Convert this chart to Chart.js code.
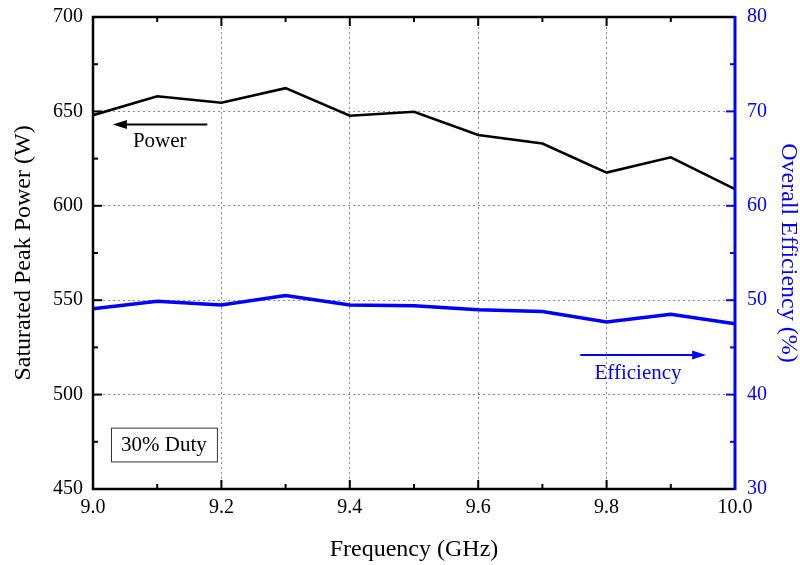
<!DOCTYPE html>
<html>
<head>
<meta charset="utf-8">
<script src="https://cdn.jsdelivr.net/npm/chart.js@4/dist/chart.umd.min.js"></script>
<style>
  html, body { margin: 0; padding: 0; background: #fff; }
  #wrap { width: 800px; height: 565px; position: relative; }
</style>
</head>
<body>
<div id="wrap"><canvas id="chart"></canvas></div>
<script>
// Values.
const freqGHz = [9.0, 9.1, 9.2, 9.3, 9.4, 9.5, 9.6, 9.7, 9.8, 9.9, 10.0];
const powerW = [648, 658, 654.6, 662.3, 647.7, 649.8, 637.5, 633, 617.6, 625.7, 608.8];
const efficiencyPct = [49.1, 49.9, 49.5, 50.5, 49.5, 49.4, 49.0, 48.8, 47.7, 48.5, 47.5];

const BLUE = "#0000ff";
const FONT = "'Liberation Serif', 'Times New Roman', serif";

// Frame, inward ticks, arrows and the "30% Duty" box. Everything is placed
// through the chart's scales so it moves with them.
const decorations = {
  id: "decorations",
  afterDatasetsDraw(chart) {
    const { ctx, chartArea: a, scales } = chart;
    const x = scales.x, y = scales.y, y1 = scales.y1;
    ctx.save();

    // frame
    ctx.lineWidth = 2.5;
    ctx.strokeStyle = "#000";
    ctx.beginPath();
    ctx.moveTo(a.right, a.top); ctx.lineTo(a.left, a.top);
    ctx.lineTo(a.left, a.bottom); ctx.lineTo(a.right, a.bottom);
    ctx.stroke();
    ctx.strokeStyle = BLUE;
    ctx.lineWidth = 3;
    ctx.beginPath();
    ctx.moveTo(a.right, a.top - 1); ctx.lineTo(a.right, a.bottom + 1);
    ctx.stroke();

    // x ticks (bottom and top), major every 0.2, minor every 0.1
    ctx.strokeStyle = "#000";
    ctx.lineWidth = 2;
    for (let i = 1; i < 10; i++) {
      const px = x.getPixelForValue(9 + i * 0.1);
      const len = i % 2 === 0 ? 9 : 5;
      ctx.beginPath();
      ctx.moveTo(px, a.bottom); ctx.lineTo(px, a.bottom - len);
      ctx.moveTo(px, a.top); ctx.lineTo(px, a.top + len);
      ctx.stroke();
    }
    // left y ticks every 25 W
    for (let v = 475; v < 700; v += 25) {
      const py = y.getPixelForValue(v);
      const len = v % 50 === 0 ? 9 : 5;
      ctx.beginPath();
      ctx.moveTo(a.left, py); ctx.lineTo(a.left + len, py);
      ctx.stroke();
    }
    // right y ticks every 5 %
    ctx.strokeStyle = BLUE;
    for (let v = 35; v < 80; v += 5) {
      const py = y1.getPixelForValue(v);
      const len = v % 10 === 0 ? 9 : 5;
      ctx.beginPath();
      ctx.moveTo(a.right, py); ctx.lineTo(a.right - len, py);
      ctx.stroke();
    }

    const arrow = (x0, x1, py, color) => {
      ctx.strokeStyle = color;
      ctx.fillStyle = color;
      ctx.lineWidth = 2;
      const dir = Math.sign(x1 - x0);
      ctx.beginPath();
      ctx.moveTo(x0, py); ctx.lineTo(x1 - dir * 10, py);
      ctx.stroke();
      ctx.beginPath();
      ctx.moveTo(x1, py);
      ctx.lineTo(x1 - dir * 14, py - 4.5);
      ctx.lineTo(x1 - dir * 14, py + 4.5);
      ctx.closePath();
      ctx.fill();
    };

    ctx.font = `21px ${FONT}`;
    ctx.textAlign = "center";
    ctx.textBaseline = "middle";

    // Power label (left axis)
    arrow(x.getPixelForValue(9.178), x.getPixelForValue(9.031), y.getPixelForValue(643), "#000");
    ctx.fillStyle = "#000";
    ctx.fillText("Power", x.getPixelForValue(9.104), y.getPixelForValue(634));

    // Efficiency label (right axis)
    arrow(x.getPixelForValue(9.759), x.getPixelForValue(9.955), y1.getPixelForValue(44.2), BLUE);
    ctx.fillStyle = BLUE;
    ctx.fillText("Efficiency", x.getPixelForValue(9.849), y1.getPixelForValue(42.2));

    // 30% Duty box
    const bx0 = x.getPixelForValue(9.028), bx1 = x.getPixelForValue(9.193);
    const by0 = y.getPixelForValue(482.5), by1 = y.getPixelForValue(464.6);
    ctx.strokeStyle = "#333";
    ctx.lineWidth = 1;
    ctx.strokeRect(bx0 + 0.5, by0 + 0.5, bx1 - bx0, by1 - by0);
    ctx.fillStyle = "#000";
    ctx.fillText("30% Duty", (bx0 + bx1) / 2, (by0 + by1) / 2 + 1);

    ctx.restore();
  },
};

const tickFont = { family: FONT, size: 20 };
const titleFont = { family: FONT, size: 24, lineHeight: 1 };

// Fixed axis sizes so the plot area lands where it is in the figure; the
// end labels are allowed to overhang into the page margin.
const fixWidth = (w) => (s) => { s.width = w; s.paddingTop = 0; s.paddingBottom = 0; };

new Chart(document.getElementById("chart"), {
  type: "line",
  data: {
    datasets: [
      {
        label: "Power",
        data: freqGHz.map((f, i) => ({ x: f, y: powerW[i] })),
        borderColor: "#000", borderWidth: 2.5, pointRadius: 0, tension: 0, yAxisID: "y",
      },
      {
        label: "Efficiency",
        data: freqGHz.map((f, i) => ({ x: f, y: efficiencyPct[i] })),
        borderColor: BLUE, borderWidth: 3.5, pointRadius: 0, tension: 0, yAxisID: "y1",
      },
    ],
  },
  options: {
    responsive: true,
    maintainAspectRatio: false,
    animation: false,
    layout: { padding: { top: 17, left: 0, right: 0, bottom: 0 } },
    plugins: { legend: { display: false }, tooltip: { enabled: false } },
    scales: {
      x: {
        type: "linear", min: 9, max: 10,
        afterFit: (s) => { s.height = 76; s.paddingLeft = 0; s.paddingRight = 0; },
        ticks: { stepSize: 0.2, color: "#000", font: tickFont, padding: 7,
          callback: (v) => v.toFixed(1) },
        grid: { color: "#888", lineWidth: 1, drawTicks: false },
        border: { display: false, dash: [2, 3] },
        title: { display: true, text: "Frequency (GHz)", color: "#000", font: titleFont,
          padding: { top: 0, bottom: 3 } },
      },
      y: {
        position: "left", min: 450, max: 700,
        afterFit: fixWidth(93),
        ticks: { stepSize: 50, color: "#000", font: tickFont, padding: 10 },
        grid: { color: "#888", lineWidth: 1, drawTicks: false },
        border: { display: false, dash: [2, 3] },
        title: { display: true, text: "Saturated Peak Power (W)", color: "#000", font: titleFont,
          padding: { top: 12, bottom: 0 } },
      },
      y1: {
        position: "right", min: 30, max: 80,
        afterFit: fixWidth(65),
        ticks: { stepSize: 10, color: BLUE, font: tickFont, padding: 12 },
        grid: { display: false, drawTicks: false },
        border: { display: false },
        title: { display: true, text: "Overall Efficiency (%)", color: BLUE, font: titleFont,
          padding: { top: 0, bottom: 0 } },
      },
    },
  },
  plugins: [decorations],
});
</script>
</body>
</html>
